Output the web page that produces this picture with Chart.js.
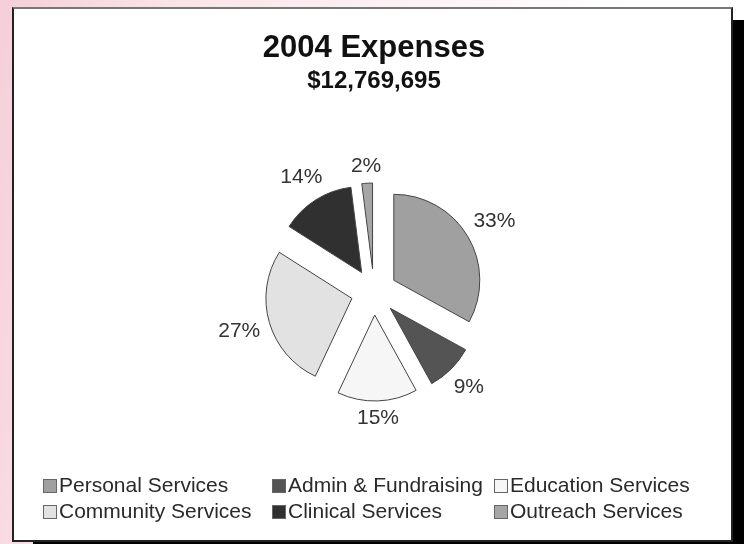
<!DOCTYPE html>
<html>
<head>
<meta charset="utf-8">
<script src="https://cdn.jsdelivr.net/npm/chart.js@4.4.1/dist/chart.umd.min.js"></script>
<style>
  html, body { margin: 0; padding: 0; }
  body {
    width: 744px; height: 544px; overflow: hidden; position: relative;
    background: linear-gradient(100deg, #f5cfd9 0%, #fae3e9 20%, #fdf2f5 50%, #ffffff 75%);
    font-family: 'Liberation Sans', Arial, sans-serif;
  }
  #shadow { position: absolute; left: 33px; top: 20px; width: 744px; height: 544px; background: #000; }
  #frame {
    position: absolute; left: 12px; top: 7px; width: 721px; height: 535px;
    box-sizing: border-box; background: #fff;
    border: 2px solid #222; border-top-color: #777;
  }
  #wrap { position: absolute; left: 0; top: 0; width: 744px; height: 544px; }
  .leg {
    position: absolute; height: 26px; line-height: 26px;
    font-size: 21px; color: #2a2a2a; white-space: nowrap;
  }
  .leg i {
    position: absolute; left: 0; top: 7px; width: 12px; height: 12px;
    border: 1px solid #666;
  }
  .leg span { position: absolute; left: 16px; top: 0; }
</style>
</head>
<body>
<div id="shadow"></div>
<div id="frame"></div>
<div id="wrap"><canvas id="chart" width="744" height="544"></canvas></div>
<div id="legend"></div>

<script>
// chart data
const titleText = '2004 Expenses'
const totalText = '$12,769,695'
const categories = ['Personal Services', 'Admin & Fundraising', 'Education Services',
                    'Community Services', 'Clinical Services', 'Outreach Services']
const percents = [33, 9, 15, 27, 14, 2]

// greys of the slices
const sliceColors = ['#a0a0a0', '#545454', '#f6f6f6', '#e2e2e2', '#303030', '#a6a6a6']

// pull every wedge out from the centre, drawing the library's own arcs
const explode = {
  id: 'explode',
  beforeDatasetDraw(chart, args, opts) {
    const ctx = chart.ctx
    args.meta.data.forEach(arc => {
      const mid = (arc.startAngle + arc.endAngle) / 2
      ctx.save()
      ctx.translate(Math.cos(mid) * opts.distance, Math.sin(mid) * opts.distance)
      arc.draw(ctx)
      ctx.restore()
    })
    return false
  }
}

// percent labels outside the wedges
const outLabels = {
  id: 'outLabels',
  afterDatasetsDraw(chart, args, opts) {
    const ctx = chart.ctx
    const meta = chart.getDatasetMeta(0)
    ctx.save()
    ctx.font = opts.size + 'px "Liberation Sans", Arial, sans-serif'
    ctx.fillStyle = opts.color
    ctx.textAlign = 'center'
    ctx.textBaseline = 'middle'
    meta.data.forEach((arc, i) => {
      const text = chart.data.datasets[0].data[i] + '%'
      const mid = (arc.startAngle + arc.endAngle) / 2
      const w = ctx.measureText(text).width
      const h = opts.size * 0.72
      const r = arc.outerRadius + opts.gap + Math.abs(Math.cos(mid)) * w / 2 + Math.abs(Math.sin(mid)) * h / 2
      ctx.fillText(text, arc.x + Math.cos(mid) * r, arc.y + Math.sin(mid) * r)
    })
    ctx.restore()
  }
}

const ctx = document.getElementById('chart').getContext('2d')

const data = {
  labels: categories,
  datasets: [{
    data: percents,
    backgroundColor: sliceColors,
    borderColor: '#444',
    borderWidth: 1
  }]
}

const config = {
  type: 'pie',
  data: data,
  plugins: [explode, outLabels],
  options: {
    responsive: false,
    animation: false,
    radius: 86,
    clip: false,
    layout: { padding: { left: 20, right: 16, top: 0, bottom: 56 } },
    plugins: {
      legend: { display: false },
      tooltip: { enabled: false },
      title: {
        display: true,
        text: titleText,
        color: '#111',
        font: { family: '"Liberation Sans", Arial, sans-serif', size: 31, weight: 'bold', lineHeight: 1.2 },
        padding: { top: 30, bottom: 0 }
      },
      subtitle: {
        display: true,
        text: totalText,
        color: '#111',
        font: { family: '"Liberation Sans", Arial, sans-serif', size: 24, weight: 'bold', lineHeight: 1.2 },
        padding: { top: 0, bottom: 0 }
      },
      explode: { distance: 23 },
      outLabels: { size: 21, color: '#333', gap: 32 }
    }
  }
}

const myChart = new Chart(ctx, config)

// legend below the pie, three columns
const colX = [43, 272, 494]
const rowY = [472, 498]
const legend = document.getElementById('legend')
categories.forEach((name, i) => {
  const item = document.createElement('div')
  item.className = 'leg'
  item.style.left = colX[i % 3] + 'px'
  item.style.top = rowY[Math.floor(i / 3)] + 'px'
  const box = document.createElement('i')
  box.style.background = sliceColors[i]
  const label = document.createElement('span')
  label.textContent = name
  item.appendChild(box)
  item.appendChild(label)
  legend.appendChild(item)
})
</script>
</body>
</html>
